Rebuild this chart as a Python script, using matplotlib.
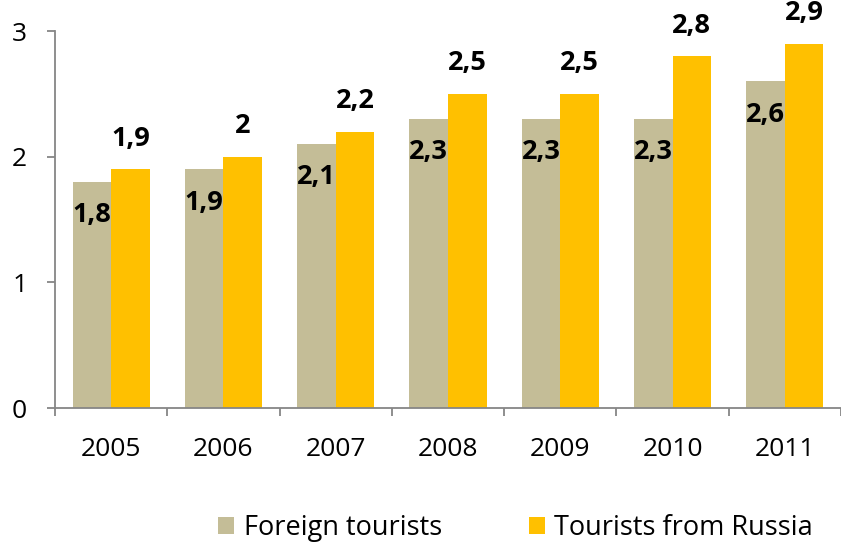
import numpy as np
import matplotlib.pyplot as plt

plt.rcParams["font.family"] = ["Open Sans", "DejaVu Sans"]

years = ["2005", "2006", "2007", "2008", "2009", "2010", "2011"]
foreign = [1.8, 1.9, 2.1, 2.3, 2.3, 2.3, 2.6]
russia = [1.9, 2.0, 2.2, 2.5, 2.5, 2.8, 2.9]

c_foreign = "#C4BD97"
c_russia = "#FFC000"
axis_grey = "#868686"


def fmt(v):
    s = ("%.1f" % v).rstrip("0").rstrip(".")
    return s.replace(".", ",")


fig = plt.figure(figsize=(8.41, 5.49), dpi=100)
ax = fig.add_axes([0.0654, 0.2568, 0.9346, 0.6867])

x = np.arange(len(years))
w = 0.343
b1 = ax.bar(x - w / 2, foreign, w, color=c_foreign, label="Foreign tourists")
b2 = ax.bar(x + w / 2, russia, w, color=c_russia, label="Tourists from Russia")

for xi, v in zip(x, foreign):
    ax.annotate(fmt(v), (xi - w / 2, v), xytext=(0, -24), textcoords="offset points",
                ha="center", va="center", fontsize=19.5, fontweight="bold")
for xi, v in zip(x, russia):
    ax.annotate(fmt(v), (xi + w / 2, v), xytext=(0, 22), textcoords="offset points",
                ha="center", va="center", fontsize=19.5, fontweight="bold")

ax.set_xlim(-0.5, len(years) - 0.5)
ax.set_ylim(0, 3)
ax.set_yticks([0, 1, 2, 3])
ax.set_xticks(x)
ax.set_xticklabels(years)
ax.set_xticks(np.arange(len(years) + 1) - 0.5, minor=True)

for s in ["top", "right"]:
    ax.spines[s].set_visible(False)
for s in ["left", "bottom"]:
    ax.spines[s].set_color(axis_grey)
    ax.spines[s].set_linewidth(1.3)

ax.tick_params(axis="y", direction="out", length=6, width=1.3, color=axis_grey,
               labelsize=19, pad=14)
ax.tick_params(axis="x", which="major", length=0, labelsize=19, pad=21)
ax.tick_params(axis="x", which="minor", direction="out", length=6, width=1.3,
               color=axis_grey)

fig.legend(handles=[b1, b2], loc="center", bbox_to_anchor=(0.613, 0.038), ncol=2,
           frameon=False, fontsize=19.5, handlelength=0.6, handleheight=0.6,
           handletextpad=0.35, columnspacing=3.2)

fig.savefig("out.png", dpi=100)
